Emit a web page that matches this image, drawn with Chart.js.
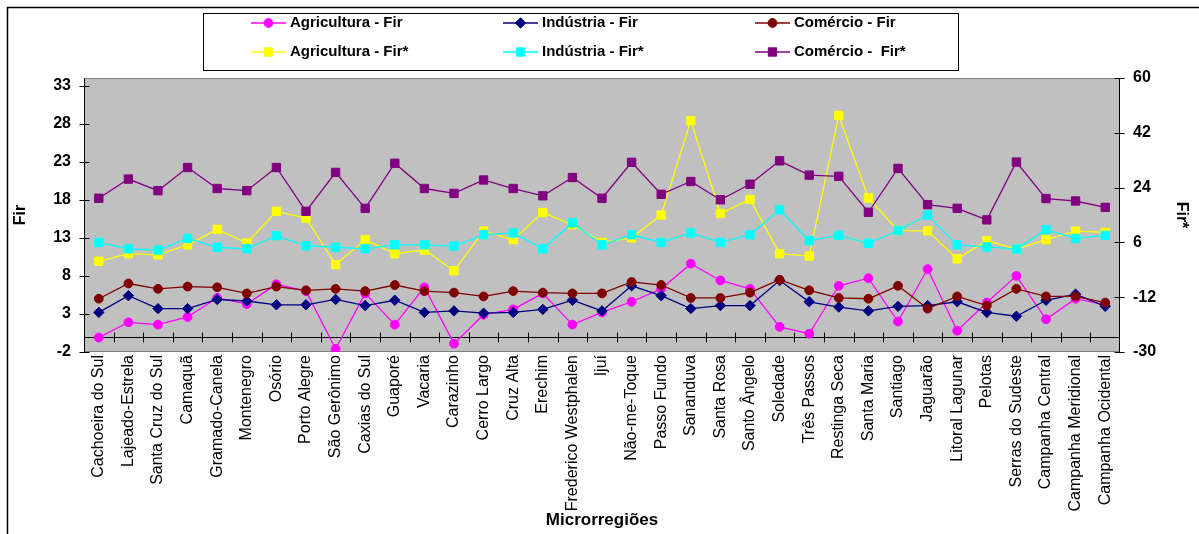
<!DOCTYPE html>
<html><head><meta charset="utf-8">
<script src="https://cdn.jsdelivr.net/npm/chart.js@4/dist/chart.umd.min.js"></script>
<style>html,body{margin:0;padding:0;background:#fff;overflow:hidden}#wrap{position:relative;width:1199px;height:534px}</style>
</head><body><div id="wrap"><canvas id="c" width="1199" height="534"></canvas></div>
<script>
const categories = ["Cachoeira do Sul","Lajeado-Estrela","Santa Cruz do Sul","Camaquã","Gramado-Canela","Montenegro","Osório","Porto Alegre","São Gerônimo","Caxias do Sul","Guaporé","Vacaria","Carazinho","Cerro Largo","Cruz Alta","Erechim","Frederico Westphalen","Ijuí","Não-me-Toque","Passo Fundo","Sananduva","Santa Rosa","Santo Ângelo","Soledade","Três Passos","Restinga Seca","Santa Maria","Santiago","Jaguarão","Litoral Lagunar","Pelotas","Serras do Sudeste","Campanha Central","Campanha Meridional","Campanha Ocidental"];
const agriculturaFir = [-0.1,1.9,1.6,2.6,5.1,4.3,6.9,6.0,-1.6,5.7,1.6,6.5,-0.9,2.9,3.6,5.7,1.6,3.2,4.6,6.3,9.6,7.4,6.3,1.3,0.4,6.7,7.7,2.0,8.9,0.8,4.5,8.0,2.3,5.0,4.2];
const industriaFir = [3.2,5.4,3.7,3.7,4.9,4.7,4.2,4.2,4.9,4.1,4.8,3.2,3.4,3.1,3.2,3.6,4.8,3.4,6.7,5.4,3.7,4.1,4.1,7.4,4.6,3.9,3.4,4.0,4.1,4.6,3.2,2.7,4.8,5.6,4.0];
const comercioFir = [5.0,7.0,6.3,6.6,6.5,5.7,6.6,6.1,6.3,6.0,6.8,6.0,5.8,5.3,6.0,5.8,5.7,5.7,7.2,6.8,5.1,5.1,5.8,7.5,6.1,5.1,5.0,6.7,3.7,5.3,4.1,6.3,5.3,5.3,4.5];
const agriculturaFirStar = [-0.2,2.3,1.9,5.2,10.3,5.8,16.2,14.0,-1.3,6.9,2.3,3.5,-3.3,9.7,6.9,15.8,11.8,6.0,7.5,15.0,46.0,15.5,20.1,2.3,1.5,47.7,20.6,9.9,9.8,0.6,6.6,3.8,6.9,9.7,9.3];
const industriaFirStar = [6.0,3.9,3.5,7.3,4.4,3.9,8.2,4.9,4.4,3.9,5.2,5.2,4.8,8.5,9.1,3.9,12.4,5.2,8.5,6.0,9.1,6.0,8.5,16.7,6.6,8.3,5.7,9.9,15.0,5.2,4.5,3.8,10.2,7.3,8.3];
const comercioFirStar = [20.5,26.8,23.0,30.6,23.7,23.0,30.6,16.2,29.0,17.2,32.0,23.7,22.1,26.5,23.7,21.3,27.3,20.5,32.3,21.8,26.0,20.0,25.1,32.8,28.1,27.7,15.9,30.3,18.4,17.2,13.4,32.4,20.4,19.6,17.5];
const leftTicks = [-2,3,8,13,18,23,28,33];
const rightTicks = [-30,-12,6,24,42,60];
const seriesNames = ["Agricultura - Fir","Indústria - Fir","Comércio - Fir","Agricultura - Fir*","Indústria - Fir*","Comércio -  Fir*"];

const FONT = "'Liberation Sans', Arial, sans-serif";
Chart.defaults.font.family = FONT;
Chart.defaults.color = '#000';

const styles = [
  {color:'#FF00FF', shape:'circle', r:4.4, axis:'y', data:agriculturaFir},
  {color:'#000080', shape:'rectRot', r:5.2, axis:'y', data:industriaFir},
  {color:'#800000', shape:'circle', r:4.4, axis:'y', data:comercioFir},
  {color:'#FFFF00', shape:'rect', r:5.9, axis:'y1', data:agriculturaFirStar},
  {color:'#00FFFF', shape:'rect', r:5.9, axis:'y1', data:industriaFirStar},
  {color:'#800080', shape:'rect', r:5.9, axis:'y1', data:comercioFirStar}
];

const datasets = styles.map((s,i)=>({
  label: seriesNames[i], data: s.data, yAxisID: s.axis,
  borderColor: s.color, backgroundColor: s.color, borderWidth: 1.3,
  pointStyle: s.shape, pointRadius: s.r, pointHoverRadius: s.r,
  pointBackgroundColor: s.color, pointBorderColor: s.color, pointBorderWidth: 1,
  tension: 0, fill: false, order: 5 - i
}));

function drawMarker(ctx, shape, x, y, r, color){
  ctx.save(); ctx.fillStyle = color; ctx.strokeStyle = color; ctx.lineWidth = 1;
  ctx.beginPath();
  if (shape === 'circle') { ctx.arc(x, y, r, 0, Math.PI*2); }
  else if (shape === 'rectRot') { ctx.moveTo(x, y-r); ctx.lineTo(x+r, y); ctx.lineTo(x, y+r); ctx.lineTo(x-r, y); ctx.closePath(); }
  else { const h = r*Math.SQRT1_2; ctx.rect(x-h, y-h, 2*h, 2*h); }
  ctx.fill(); ctx.stroke(); ctx.restore();
}

const decor = {
  id: 'decor',
  beforeDraw(chart){
    const {ctx, chartArea:a} = chart;
    ctx.save();
    ctx.fillStyle = '#fff'; ctx.fillRect(0,0,chart.width,chart.height);
    ctx.strokeStyle = '#000'; ctx.lineWidth = 1.5;
    ctx.beginPath(); ctx.moveTo(7.5, chart.height); ctx.lineTo(7.5, 7.5); ctx.lineTo(chart.width, 7.5); ctx.stroke();
    ctx.fillStyle = '#C0C0C0'; ctx.fillRect(a.left, a.top, a.right-a.left, a.bottom-a.top);
    ctx.strokeStyle = '#808080'; ctx.lineWidth = 1;
    ctx.strokeRect(a.left+0.5, a.top+0.5, a.right-a.left-1, a.bottom-a.top-1);
    ctx.restore();
  },
  beforeDatasetsDraw(chart){
    const {ctx, chartArea:a, scales} = chart;
    const x = scales.x, y = scales.y, y1 = scales.y1;
    ctx.save(); ctx.strokeStyle = '#000'; ctx.lineWidth = 1;
    const y0 = Math.round(y.getPixelForValue(0)) + 0.5;
    ctx.beginPath(); ctx.moveTo(a.left, y0); ctx.lineTo(a.right, y0);
    const n = categories.length;
    for (let i = 0; i < n - 1; i++) {
      const bx = Math.round((x.getPixelForTick(i) + x.getPixelForTick(i+1))/2) + 0.5;
      ctx.moveTo(bx, y0-5); ctx.lineTo(bx, y0+5);
    }
    ctx.stroke();
    const lx = Math.round(a.left) + 0.5;
    ctx.beginPath(); ctx.moveTo(lx, a.top); ctx.lineTo(lx, a.bottom);
    leftTicks.forEach(v=>{ const py = Math.round(y.getPixelForValue(v))+0.5; ctx.moveTo(lx-5, py); ctx.lineTo(lx+5, py); });
    ctx.stroke();
    const rx = Math.round(a.right) - 0.5;
    ctx.beginPath(); ctx.moveTo(rx, a.top); ctx.lineTo(rx, a.bottom);
    rightTicks.forEach(v=>{ const py = Math.round(y1.getPixelForValue(v))+0.5; ctx.moveTo(rx-5, py); ctx.lineTo(rx+5, py); });
    ctx.stroke();
    ctx.restore();
  },
  afterDraw(chart){
    const ctx = chart.ctx;
    ctx.save();
    ctx.fillStyle = '#fff'; ctx.fillRect(203.5, 13.5, 755, 57);
    ctx.strokeStyle = '#000'; ctx.lineWidth = 1; ctx.strokeRect(203.5, 13.5, 755, 57);
    const cols = [251, 503, 755], rows = [23, 52];
    ctx.font = "bold 15px " + FONT; ctx.textBaseline = 'middle'; ctx.textAlign = 'left';
    styles.forEach((s,i)=>{
      const cx = cols[i%3], cy = rows[Math.floor(i/3)];
      ctx.strokeStyle = s.color; ctx.lineWidth = 1.5;
      ctx.beginPath(); ctx.moveTo(cx, cy); ctx.lineTo(cx+35, cy); ctx.stroke();
      drawMarker(ctx, s.shape, cx+17.5, cy, s.r, s.color);
      ctx.fillStyle = '#000'; ctx.fillText(seriesNames[i], cx+39, cy);
    });
    ctx.restore();
  }
};

new Chart(document.getElementById('c'), {
  type: 'line',
  data: { labels: categories, datasets },
  plugins: [decor],
  options: {
    responsive: false, animation: false, devicePixelRatio: 1,
    layout: { padding: { top: 78, left: 0, right: 0, bottom: 0 } },
    plugins: { legend: { display: false }, tooltip: { enabled: false } },
    scales: {
      x: {
        type: 'category', offset: true,
        grid: { display: false, drawTicks: false }, border: { display: false },
        ticks: { autoSkip: false, minRotation: 90, maxRotation: 90, padding: 3, color: '#000', font: { size: 16 } },
        title: { display: true, text: 'Microrregiões', color: '#000', font: { size: 17, weight: 'bold' }, padding: { top: 0, bottom: 3 } },
        afterFit: s => { s.height = 182; }
      },
      y: {
        position: 'left', min: -2, max: 34,
        afterBuildTicks: s => { s.ticks = leftTicks.map(v => ({ value: v })); },
        grid: { display: false, drawTicks: false }, border: { display: false },
        ticks: { padding: 13, color: '#000', font: { size: 16, weight: 'bold' } },
        title: { display: true, text: 'Fir', color: '#000', font: { size: 16, weight: 'bold' }, padding: { top: 11, bottom: 0 } },
        afterFit: s => { s.width = 84; }
      },
      y1: {
        position: 'right', min: -30, max: 60,
        afterBuildTicks: s => { s.ticks = rightTicks.map(v => ({ value: v })); },
        grid: { display: false, drawTicks: false }, border: { display: false },
        ticks: { padding: 13, color: '#000', font: { size: 16, weight: 'bold' } },
        title: { display: true, text: 'Fir*', color: '#000', font: { size: 16, weight: 'bold' }, padding: { top: 8, bottom: 0 } },
        afterFit: s => { s.width = 79; }
      }
    }
  }
});
</script></body></html>
